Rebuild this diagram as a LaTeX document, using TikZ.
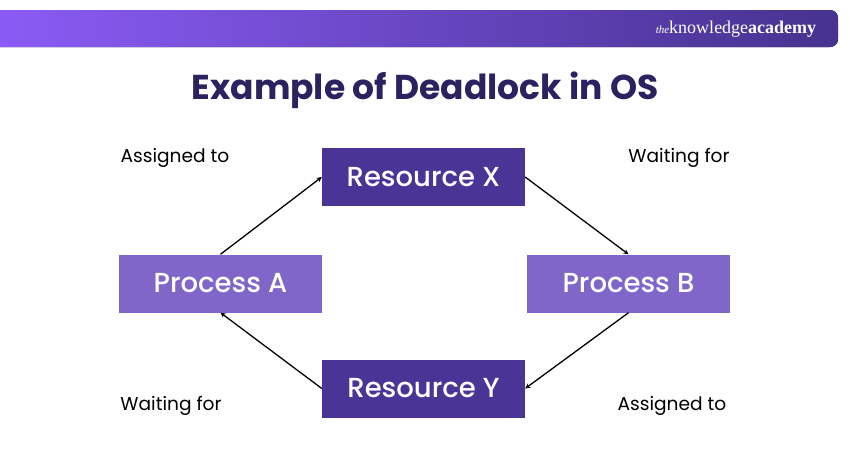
\documentclass[tikz,border=0pt]{standalone}
\usepackage{fontspec}
\setmainfont{Poppins}
\newfontfamily\medfont{Poppins Medium}
\newfontfamily\logofont{Liberation Serif}
\definecolor{resdark}{HTML}{4A3597}
\definecolor{proclight}{HTML}{8066C8}
\definecolor{barleft}{HTML}{8B5CF6}
\definecolor{barright}{HTML}{46328F}
\definecolor{titlecol}{HTML}{2B2260}
\tikzset{
  resource/.style={rectangle, minimum width=203pt, minimum height=58pt, fill=resdark, text=white, font=\medfont\fontsize{27.5}{32}\selectfont},
  process/.style={rectangle, minimum width=203pt, minimum height=58pt, fill=proclight, text=white, font=\medfont\fontsize{27.5}{32}\selectfont},
  edgelabel/.style={font=\fontsize{18.6}{22}\selectfont, text=black},
  arrow/.style={line width=1.3pt,->,>=stealth}
}
\begin{document}
\begin{tikzpicture}[x=1pt,y=-1pt]
\useasboundingbox[fill=white] (0,0) rectangle (850,450);
% header bar
\fill[left color=barleft, right color=barright, rounded corners=8pt] (-10,10) rectangle (838,47);
\node[text=white, font=\logofont\fontsize{18}{20}\selectfont] (logo) at (736,29) {\textit{\fontsize{11}{12}\selectfont the}knowledge\textbf{academy}};
\node[font=\fontsize{34.5}{40}\selectfont\bfseries, text=titlecol] (title) at (425,90) {Example of Deadlock in OS};
% boxes
\node[resource] (resx) at (423.5,177) {Resource X};
\node[process] (proca) at (220.5,283.5) {Process A};
\node[process] (procb) at (628.5,283.5) {Process B};
\node[resource] (resy) at (423.5,388.5) {Resource Y};
% connectors
\draw[arrow] (proca.north) -- (resx.west);
\draw[arrow] (resx.east) -- (procb.north);
\draw[arrow] (procb.south) -- (resy.east);
\draw[arrow] (resy.west) -- (proca.south);
% labels
\node[edgelabel] (lab1) at (175,158) {Assigned to};
\node[edgelabel] (lab2) at (679,158) {Waiting for};
\node[edgelabel] (lab3) at (171,406) {Waiting for};
\node[edgelabel] (lab4) at (672,406) {Assigned to};
\end{tikzpicture}
\end{document}
